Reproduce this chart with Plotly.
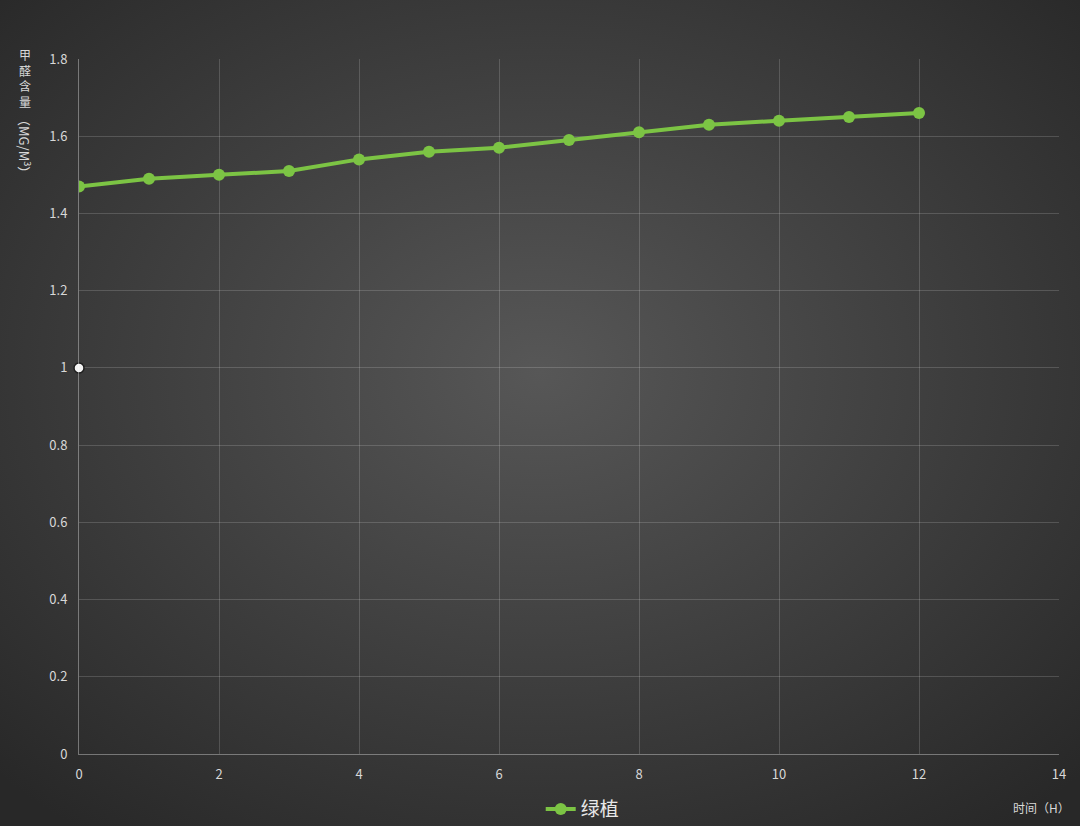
import plotly.graph_objects as go

# data
hours = [0, 1, 2, 3, 4, 5, 6, 7, 8, 9, 10, 11, 12]
formaldehyde = [1.47, 1.49, 1.50, 1.51, 1.54, 1.56, 1.57, 1.59, 1.61, 1.63, 1.64, 1.65, 1.66]
series_name = "绿植"
marker_x = [0]
marker_y = [1]

font = "Noto Sans CJK SC, Noto Sans, sans-serif"
green = "#7cc444"
text_color = "#d8d8d8"

bg_svg = (
    "data:image/svg+xml;utf8,"
    "<svg xmlns='http://www.w3.org/2000/svg' width='1080' height='826'>"
    "<defs><radialGradient id='g' cx='50%' cy='45%' r='70%'>"
    "<stop offset='0%' stop-color='%23575757'/>"
    "<stop offset='100%' stop-color='%23282828'/>"
    "</radialGradient></defs>"
    "<rect width='1080' height='826' fill='url(%23g)'/></svg>"
)

fig = go.Figure()
fig.add_trace(go.Scatter(
    x=hours, y=formaldehyde, name=series_name,
    mode="lines+markers",
    line=dict(color=green, width=4),
    marker=dict(color=green, size=12),
))
fig.add_trace(go.Scatter(
    x=marker_x, y=marker_y, mode="markers", showlegend=False,
    marker=dict(color="#f2f2f2", size=10, line=dict(color="#1e1e1e", width=1.5)),
    cliponaxis=False,
))

axis_common = dict(
    showgrid=True, gridcolor="rgba(255,255,255,0.16)", gridwidth=1,
    zeroline=False, showline=True, linecolor="rgba(255,255,255,0.35)", linewidth=1,
    tickfont=dict(family=font, size=13, color=text_color),
    ticks="", fixedrange=True,
)
fig.update_xaxes(range=[0, 14], dtick=2, ticklabelstandoff=8, **axis_common)
fig.update_yaxes(range=[0, 1.8], dtick=0.2, ticklabelstandoff=8, **axis_common)

fig.add_annotation(
    xref="paper", yref="paper", x=-0.055, y=1.022, xanchor="center", yanchor="top",
    text="甲<br>醛<br>含<br>量", showarrow=False,
    font=dict(family=font, size=12, color=text_color),
)
fig.add_annotation(
    xref="paper", yref="paper", x=-0.055, y=0.925, xanchor="center", yanchor="top",
    text="（MG/M<sup>3</sup>）", textangle=90, showarrow=False,
    font=dict(family=font, size=13, color=text_color),
)
fig.add_annotation(
    xref="paper", yref="paper", x=1.0133, y=-0.062, xanchor="right", yanchor="top",
    text="时间（H）", showarrow=False,
    font=dict(family=font, size=12, color=text_color),
)

fig.update_layout(
    width=1080, height=826,
    margin=dict(l=79, r=21, t=59, b=72, autoexpand=False),
    paper_bgcolor="#333333",
    plot_bgcolor="rgba(0,0,0,0)",
    images=[dict(source=bg_svg, xref="paper", yref="paper", x=-79 / 980, y=1 + 59 / 695,
                 sizex=1080 / 980, sizey=826 / 695, sizing="stretch",
                 xanchor="left", yanchor="top", layer="below")],
    showlegend=True,
    legend=dict(orientation="h", x=0.514, xanchor="center", y=-0.052, yanchor="top",
                font=dict(family=font, size=19, color="#e8e8e8"),
                bgcolor="rgba(0,0,0,0)"),
    font=dict(family=font),
)

fig.write_html("out.html", config={"displayModeBar": False},
               post_script="document.body.style.margin='0';")
